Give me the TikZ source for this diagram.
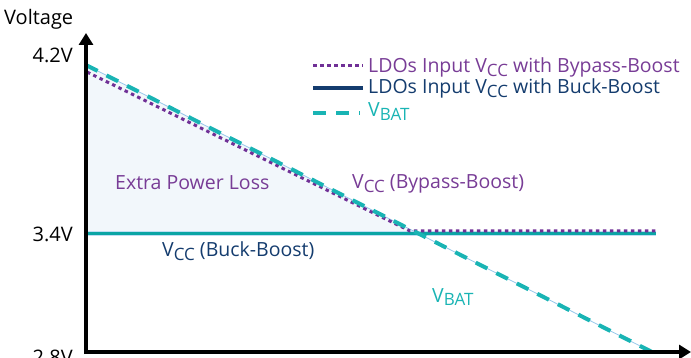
\documentclass[tikz,border=0pt]{standalone}
\usepackage{fontspec}
\setmainfont{Open Sans}
\usetikzlibrary{arrows.meta}
\definecolor{vpurple}{RGB}{112,48,150}
\definecolor{vtext}{RGB}{120,60,150}
\definecolor{vblue}{RGB}{20,60,110}
\definecolor{vteal}{RGB}{25,180,180}
\definecolor{vline}{RGB}{10,165,165}
\definecolor{vfill}{RGB}{242,247,251}
\definecolor{vthin}{RGB}{150,200,235}
\newcommand\subcc[1]{\raisebox{-0.3ex}{\fontsize{17}{17}\selectfont #1}}
\tikzset{
  lbl/.style={inner sep=0pt, font=\fontsize{19.5}{22}\selectfont, anchor=base west},
  albl/.style={inner sep=0pt, font=\fontsize{20}{22}\selectfont},
  axisline/.style={line width=4.5pt, -{Triangle[length=12pt,width=14pt]}},
  dotline/.style={vpurple, line width=3pt, dash pattern=on 3.5pt off 3.5pt},
  dashline/.style={vteal, line width=4pt, dash pattern=on 13pt off 10pt},
  solidline/.style={vline, line width=3pt},
}
\begin{document}
\begin{tikzpicture}[x=1pt,y=-1pt]
\useasboundingbox (0,0) rectangle (691,358);
% key points
\coordinate (top) at (86,65);
\coordinate (cross) at (419,234);
\coordinate (left34) at (86,234);
\coordinate (right34) at (656,234);
\coordinate (end) at (652,352);
\coordinate (ytip) at (86,33);
\coordinate (xtip) at (691,352);
% fill
\fill[vfill] (top) -- (cross) -- (left34) -- cycle;
% thin line under VBAT
\draw[vthin, line width=0.8pt] (top) -- (end);
% horizontal 3.4 line
\draw[vthin!60, line width=5pt] (left34) -- (right34);
\draw[solidline] (left34) -- (right34);
% purple dotted
\coordinate (ptop) at (87,72);
\coordinate (pcross) at (410,231);
\coordinate (pright) at (656,231);
\draw[dotline] (ptop) -- (pcross) -- (pright);
% teal dashed
\draw[dashline] (top) -- (end);
% axes
\draw[axisline] (86,354) -- (ytip);
\draw[axisline] (84,352) -- (xtip);
% axis labels
\node[albl, anchor=base west] (volt) at (4,25) {Voltage};
\node[albl, anchor=base east] (v42) at (73,63) {4.2V};
\node[albl, anchor=base east] (v34) at (73,242) {3.4V};
\node[albl, anchor=base east] (v28) at (73,364) {2.8V};
% legend
\coordinate (l1a) at (313,66); \coordinate (l1b) at (363,66);
\coordinate (l2a) at (313,88); \coordinate (l2b) at (363,88);
\coordinate (l3a) at (313,113); \coordinate (l3b) at (360,113);
\draw[dotline] (l1a) -- (l1b);
\draw[vblue, line width=3.5pt] (l2a) -- (l2b);
\draw[dashline] (l3a) -- (l3b);
\node[lbl, text=vtext] (t1) at (368,73) {LDOs Input V\subcc{CC} with Bypass-Boost};
\node[lbl, text=vblue] (t2) at (368,94) {LDOs Input V\subcc{CC} with Buck-Boost};
\node[lbl, text=vteal] (t3) at (368,117) {V\subcc{BAT}};
% plot labels
\node[lbl, text=vtext] (epl) at (115,190) {Extra Power Loss};
\node[lbl, text=vtext] (bypass) at (352,189) {V\subcc{CC} (Bypass-Boost)};
\node[lbl, text=vblue] (buck) at (162,257) {V\subcc{CC} (Buck-Boost)};
\node[lbl, text=vteal] (vbat) at (432,302) {V\subcc{BAT}};
\end{tikzpicture}
\end{document}
